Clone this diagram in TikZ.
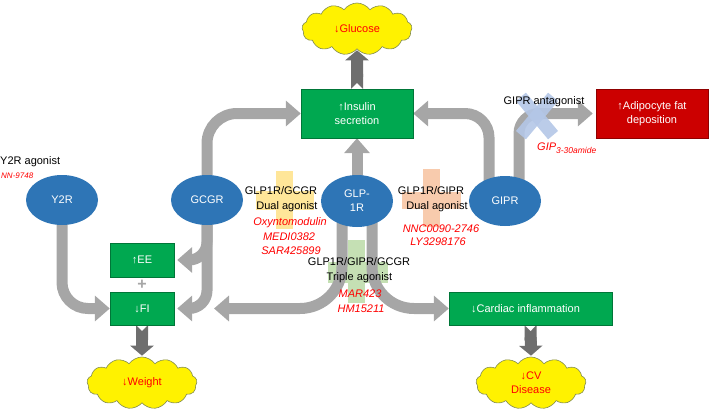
\documentclass[tikz,border=0pt]{standalone}
\usepackage{fontspec}
\setmainfont{Liberation Sans}
\usetikzlibrary{arrows.meta,shapes.geometric,shapes.symbols,backgrounds}
\definecolor{ellc}{RGB}{46,117,182}
\definecolor{grn}{RGB}{0,168,80}
\definecolor{rbox}{RGB}{204,0,0}
\definecolor{garr}{RGB}{166,166,166}
\definecolor{darr}{RGB}{110,110,110}
\definecolor{cedge}{RGB}{130,140,80}
\definecolor{labred}{RGB}{255,0,0}
\definecolor{pyel}{RGB}{255,230,153}
\definecolor{pora}{RGB}{248,203,173}
\definecolor{pgrn}{RGB}{197,224,180}
\definecolor{pblu}{RGB}{180,199,231}
\begin{document}
\begin{tikzpicture}[x=1pt,y=-1pt,
  every node/.style={font=\fontsize{11}{14}\selectfont},
  recep/.style={ellipse, fill=ellc, text=white, minimum width=72pt, minimum height=50pt, inner sep=0pt, align=center},
  gbox/.style={rectangle, fill=grn, draw=grn!70!black, line width=0.4pt, text=white, inner sep=0pt, align=center},
  rbx/.style={rectangle, fill=rbox, draw=rbox!70!black, line width=0.4pt, text=white, inner sep=0pt, align=center},
  cloudnode/.style={cloud, cloud puffs=13, cloud puff arc=110, cloud ignores aspect, draw=cedge, line width=0.6pt, fill=yellow, minimum width=110pt, minimum height=52pt, inner sep=0pt, text=labred, align=center},
  blk/.style={text=black, inner sep=0pt},
  red/.style={text=labred, inner sep=0pt, font=\fontsize{11}{14}\selectfont\itshape},
  garrow/.style={draw=garr, line width=11pt, -{Triangle[length=15pt 0 0,width=25pt 0 0]}},
  darrow/.style={draw=darr, line width=12pt, {Triangle Cap[reversed]}-{Triangle[length=10pt 0 0,width=23pt 0 0]}}
]
\useasboundingbox (0,0) rectangle (709,412);

% nodes
\node[cloudnode] (gluc) at (357,29) {↓Glucose};
\node[gbox, minimum width=112pt, minimum height=49pt] (ins) at (357,113.5) {↑Insulin\\secretion};
\node[rbx, minimum width=112pt, minimum height=49pt] (adip) at (652,113.5) {↑Adipocyte fat\\deposition};
\node[recep] (y2r) at (62,200) {Y2R};
\node[recep] (gcgr) at (207,200) {GCGR};
\node[recep, minimum height=52pt] (glp) at (357,201) {GLP-\\1R};
\node[recep] (gipr) at (505,201) {GIPR};
\node[gbox, minimum width=64pt, minimum height=34pt] (ee) at (142,260) {↑EE};
\node[gbox, minimum width=64pt, minimum height=33pt] (fi) at (142,308.5) {↓FI};
\node[text=garr, inner sep=0pt, font=\fontsize{16}{16}\selectfont\bfseries] (plus) at (142,284.5) {+};
\node[gbox, minimum width=163pt, minimum height=33pt] (card) at (530.5,308.5) {↓Cardiac inflammation\hspace{10pt}};
\node[cloudnode] (weight) at (142,383) {↓Weight};
\node[cloudnode] (cv) at (531,383) {↓CV\\Disease};

% labels
\node[blk, anchor=west] (y2ragt) at (0,162) {Y2R agonist};
\node[red, anchor=west, font=\fontsize{8}{10}\selectfont\itshape] (nn) at (1,176) {NN-9748};
\node[blk] (d1a) at (281,191) {GLP1R/GCGR};
\node[blk] (d1b) at (287,207) {Dual agonist};
\node[red] (d1c) at (290,223) {Oxyntomodulin};
\node[red] (d1d) at (289,237) {MEDI0382};
\node[red] (d1e) at (291,251) {SAR425899};
\node[blk] (d2a) at (431,191) {GLP1R/GIPR};
\node[blk] (d2b) at (437,207) {Dual agonist};
\node[red] (d2c) at (441,229) {NNC0090-2746};
\node[red] (d2d) at (438,242) {LY3298176};
\node[blk] (t1) at (359,262) {GLP1R/GIPR/GCGR};
\node[blk] (t2) at (359.5,278) {Triple agonist};
\node[red] (t3) at (360,294) {MAR423};
\node[red] (t4) at (361,309) {HM15211};
\node[blk] (anta) at (544,102) {GIPR antagonist};
\node[red, anchor=west] (gip) at (537,148) {GIP\raisebox{-3.5pt}{\fontsize{8.5}{9}\selectfont\itshape 3-30amide}};

\coordinate (glpL) at (214,308.5);

\begin{scope}[on background layer]
  % agonist plus signs
  \fill[pyel] (276,171) rectangle (293,229);
  \fill[pyel] (256,191) rectangle (314,210);
  \fill[pora] (423,169) rectangle (440,227);
  \fill[pora] (402,192) rectangle (461,209);
  \fill[pgrn] (348,240) rectangle (365,303);
  \fill[pgrn] (328,262) rectangle (388,283);
  % grey arrows
  \draw[garrow, rounded corners=30pt] (gcgr.center) |- (ins.west);
  \draw[garrow, rounded corners=24pt] ([xshift=-16pt]gipr.center) |- (ins.east);
  \draw[garrow, rounded corners=20pt, shorten >=3pt] ([xshift=14pt]gipr.center) |- (adip.west);
  \draw[garrow] (glp.center) -- (ins.south);
  \draw[garrow, rounded corners=42pt] ([xshift=-15pt]glp.center) |- (glpL);
  \draw[garrow, rounded corners=42pt] ([xshift=15pt]glp.center) |- (card.west);
  \draw[garrow, rounded corners=26pt] (y2r.center) |- (fi.west);
  \draw[garrow, rounded corners=18pt, shorten >=3pt] (gcgr.center) |- (ee.east);
  \draw[garrow, rounded corners=18pt, shorten >=3pt] (gcgr.center) |- (fi.east);
  % antagonist cross
  \begin{scope}[shift={(537,116)}, rotate=40]
    \fill[pblu, opacity=0.9] (-6.5,-25) rectangle (6.5,25);
  \end{scope}
  \begin{scope}[shift={(537,116)}, rotate=-40]
    \fill[pblu, opacity=0.9] (-6.5,-25) rectangle (6.5,25);
  \end{scope}
  % dark arrows
  \draw[darrow, shorten >=1pt] (ins.north) -- (gluc.south);
  \draw[darrow, shorten >=1pt] (fi.south) -- (weight.north);
  \draw[darrow, shorten >=1pt] (card.south) -- (cv.north);
\end{scope}
\end{tikzpicture}
\end{document}
